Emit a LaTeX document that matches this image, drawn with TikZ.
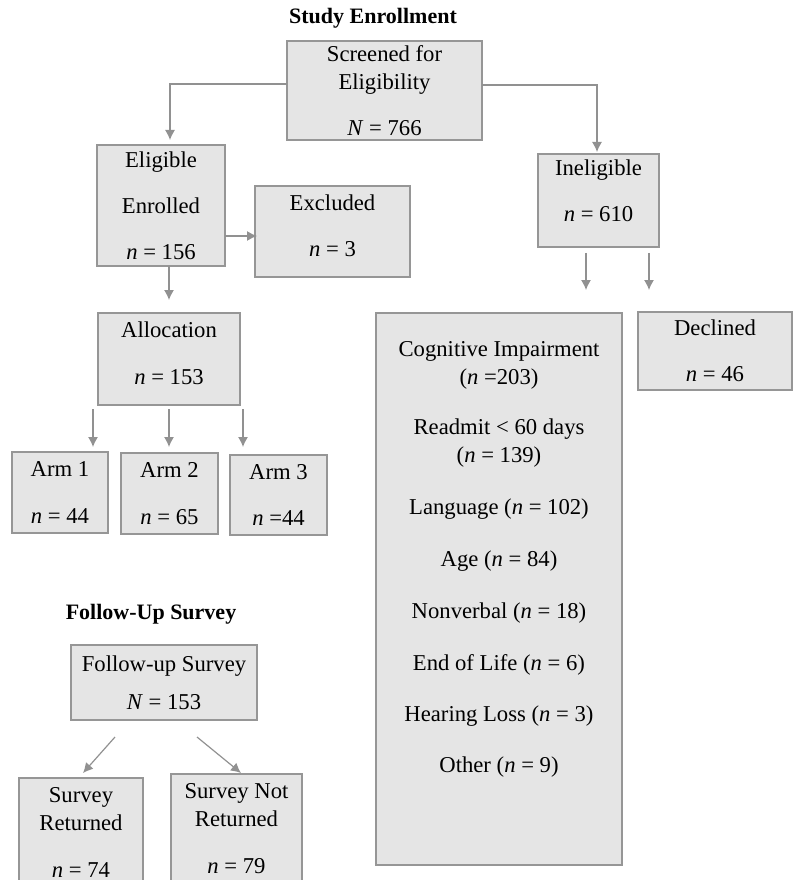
\documentclass[tikz,border=0pt]{standalone}
\usepackage{fontspec}
\setmainfont{Liberation Serif}
\usetikzlibrary{arrows.meta,calc}
\definecolor{boxfill}{RGB}{229,229,229}
\definecolor{boxline}{RGB}{150,150,150}
\definecolor{arrline}{RGB}{145,145,145}
\newcommand{\padlow}[1]{\rule[-#1]{0pt}{#1}}
\begin{document}
\begin{tikzpicture}[x=0.75pt,y=-0.75pt,
  box/.style 2 args={draw=boxline,fill=boxfill,line width=0.8pt,align=center,
    inner sep=0pt,outer sep=0pt,minimum width=#1*0.75pt,minimum height=#2*0.75pt,
    font=\fontsize{17}{21}\selectfont},
  heading/.style={font=\fontsize{16.5}{20}\selectfont\bfseries},
  arr/.style={draw=arrline,line width=0.9pt,-{Latex[length=7.5pt,width=7.5pt]}}]
\useasboundingbox (0,0) rectangle (793,880);
\node[heading] (T1) at (373,18) {Study Enrollment};
\node[box={195}{99}] (scr) at (384.5,90.5) {Screened for\\Eligibility\\[14pt]\textit{N} = 766};
\node[box={128}{121}] (elig) at (161,205.5) {Eligible\\[13.5pt]Enrolled\\[13.5pt]\textit{n} = 156};
\node[box={155}{91}] (excl) at (332.5,231.5) {Excluded\\[14pt]\textit{n} = 3\padlow{9pt}};
\node[box={121}{93}] (inel) at (598.5,200.5) {Ineligible\\[13.5pt]\textit{n} = 610\padlow{15pt}};
\node[box={154}{78}] (decl) at (715,351) {Declined\\[13.5pt]\textit{n} = 46};
\node[box={246}{552}] (why) at (499,589) {Cognitive Impairment\\(\textit{n} =203)\\[16.5pt]
  Readmit < 60 days\\(\textit{n} = 139)\\[18.5pt]Language (\textit{n} = 102)\\[17.5pt]
  Age (\textit{n} = 84)\\[18.5pt]Nonverbal (\textit{n} = 18)\\[17.5pt]End of Life (\textit{n} = 6)\\[17.5pt]
  Hearing Loss (\textit{n} = 3)\\[17.5pt]Other (\textit{n} = 9)\padlow{48pt}};
\node[box={142}{92}] (alloc) at (169,359) {Allocation\\[14pt]\textit{n} = 153\padlow{9pt}};
\node[box={96}{81}] (arm1) at (60,492.5) {Arm 1\\[14pt]\textit{n} = 44};
\node[box={97}{81}] (arm2) at (169.5,493.5) {Arm 2\\[14pt]\textit{n} = 65};
\node[box={97}{80}] (arm3) at (278.5,495) {Arm 3\\[14pt]\textit{n} =44};
\node[heading] (T2) at (151,614) {Follow-Up Survey};
\node[box={186}{75}] (fu) at (164,682.5) {Follow-up Survey\\[7.5pt]\textit{N} = 153};
\node[box={124}{109}] (ret) at (81,832.5) {Survey\\Returned\\[14pt]\textit{n} = 74};
\node[box={131}{109}] (nret) at (236.5,828.5) {Survey Not\\Returned\\[14pt]\textit{n} = 79};
\draw[arr] ($(scr.west)+(0,-6.5)$) -| ($(elig.north)+(9,-5)$);
\draw[arr] ($(scr.east)+(0,-5.5)$) -| ($(inel.north)+(-1.5,-2)$);
\draw[arr] ($(elig.east)+(0,30.5)$) -- ($(excl.west)+(2,4.5)$);
\draw[arr] ($(elig.south)+(8,0)$) -- ($(alloc.north)+(0,-13)$);
\draw[arr] ($(inel.south)+(-12.5,6)$) -- ($(why.north)+(87,-23)$);
\draw[arr] ($(inel.south)+(50.5,6)$) -- ($(decl.north)+(-66,-22)$);
\draw[arr] ($(alloc.south)+(-76,4)$) -- ($(arm1.north)+(33,-5)$);
\draw[arr] ($(alloc.south)+(0,4)$) -- ($(arm2.north)+(-0.5,-6)$);
\draw[arr] ($(alloc.south)+(74,4)$) -- ($(arm3.north)+(-35.5,-8)$);
\draw[arr] ($(fu.south)+(-49,17)$) -- ($(ret.north)+(2,-5)$);
\draw[arr] ($(fu.south)+(33,17)$) -- ($(nret.north)+(4.5,-1)$);
\end{tikzpicture}
\end{document}
